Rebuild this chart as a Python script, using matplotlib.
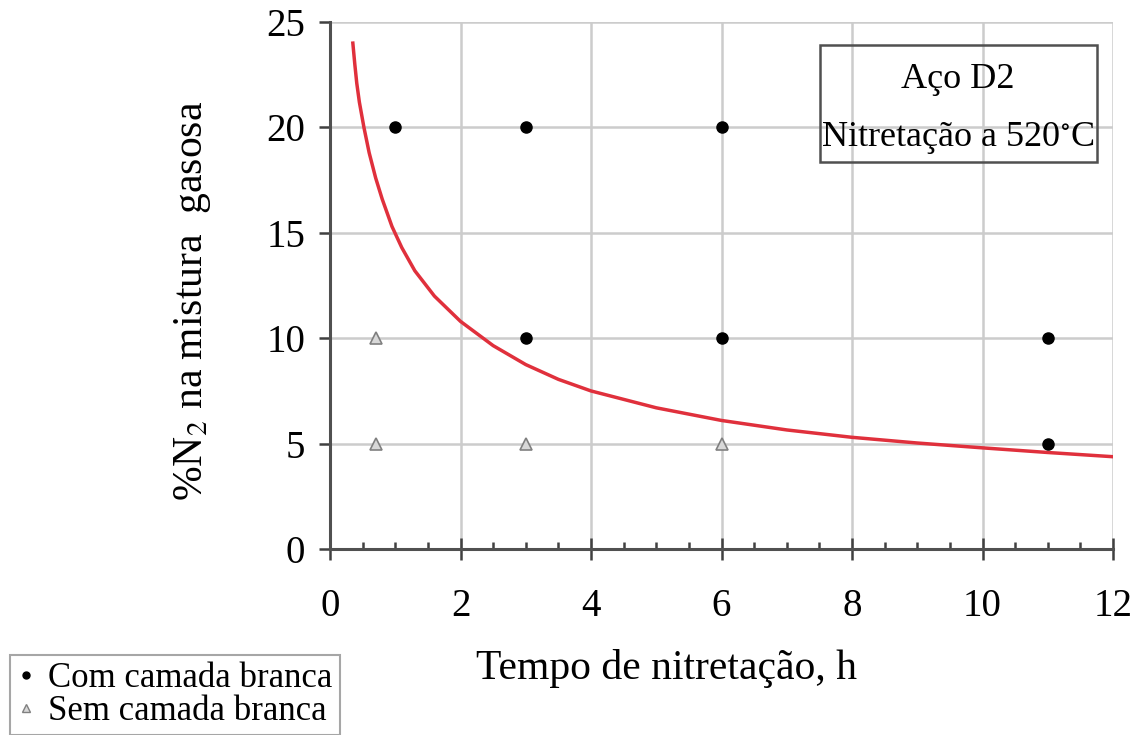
import matplotlib
matplotlib.use("Agg")
import matplotlib.pyplot as plt
from matplotlib.lines import Line2D
from matplotlib.patches import Rectangle
from matplotlib.ticker import MultipleLocator

plt.rcParams['font.family'] = ['Liberation Serif', 'DejaVu Serif']
plt.rcParams['mathtext.fontset'] = 'stix'

# curve
curve_x = [0.35, 0.38, 0.41, 0.45, 0.52, 0.6, 0.7, 0.8, 0.95, 1.1, 1.3, 1.6, 2.0, 2.5,
           3.0, 3.5, 4.0, 5.0, 6.0, 7.0, 8.0, 9.0, 10.0, 11.0, 12.0]
curve_y = [24.0, 23.0, 22.1, 21.2, 20.0, 18.8, 17.6, 16.6, 15.3, 14.3, 13.2, 12.0, 10.8, 9.65,
           8.75, 8.05, 7.5, 6.7, 6.1, 5.65, 5.3, 5.03, 4.8, 4.58, 4.38]

# experiments
com_x = [1, 3, 6, 3, 6, 11, 11]
com_y = [20, 20, 20, 10, 10, 10, 5]
sem_x = [0.7, 0.7, 3, 6]
sem_y = [10, 5, 5, 5]

legend_labels = ['Com camada branca', 'Sem camada branca']
box_lines = ['Aço D2', 'Nitretação a 520$^{\\circ}$C']

fig = plt.figure(figsize=(11.36, 7.35), dpi=100)
ax = fig.add_axes([0.2905, 0.253, 0.6893, 0.717])

ax.plot(curve_x, curve_y, color='#e0303c', lw=2.5, zorder=3)
ax.plot(com_x, com_y, 'o', color='black', ms=8, zorder=4)
ax.plot(sem_x, sem_y, '^', mfc='#d8d8d8', mec='#808080', mew=1.2, ms=8, zorder=4)

ax.set_xlim(0, 12)
ax.set_ylim(0, 25)
ax.xaxis.set_major_locator(MultipleLocator(2))
ax.xaxis.set_minor_locator(MultipleLocator(0.5))
ax.yaxis.set_major_locator(MultipleLocator(5))
ax.grid(True, which='major', color='#cccccc', lw=1.8, zorder=0)

for s in ['top', 'right']:
    ax.spines[s].set_visible(False)
for s in ['left', 'bottom']:
    ax.spines[s].set_color('#505050')
    ax.spines[s].set_linewidth(2.2)

ax.tick_params(axis='x', which='major', direction='inout', length=16, width=1.8,
               color='#404040', labelsize=28, pad=20)
ax.tick_params(axis='x', which='minor', direction='in', length=5, width=1.8, color='#404040')
ax.tick_params(axis='y', which='major', direction='out', length=8, width=1.8,
               color='#404040', labelsize=28, pad=10)

ax.set_xlabel('Tempo de nitretação, h', fontsize=30)
ax.xaxis.set_label_coords(0.43, -0.19)
ax.set_ylabel('%N$_2$ na mistura  gasosa', fontsize=30)
ax.yaxis.set_label_coords(-0.15, 0.47)

# annotation box
fig.patches.append(Rectangle((820 / 1136, 1 - 162 / 735), 277 / 1136, 117 / 735,
                             transform=fig.transFigure, fill=False,
                             edgecolor='#505050', lw=1.8))
fig.text(958 / 1136, 1 - 80 / 735, box_lines[0], ha='center', va='center', fontsize=26)
fig.text(958 / 1136, 1 - 138 / 735, box_lines[1], ha='center', va='center', fontsize=26)

handles = [Line2D([], [], ls='none', marker='o', color='black', ms=5),
           Line2D([], [], ls='none', marker='^', mfc='#d8d8d8', mec='#808080', ms=6)]
leg = fig.legend(handles, legend_labels, loc='upper left',
                 bbox_to_anchor=(10 / 1136, 1 - 655 / 735), fontsize=25,
                 frameon=True, fancybox=False, handlelength=0.5, handletextpad=0.4,
                 borderpad=0.2, labelspacing=0.0, borderaxespad=0)
leg.get_frame().set_edgecolor('#909090')
leg.get_frame().set_linewidth(1.5)

fig.savefig('out.png', dpi=100)
